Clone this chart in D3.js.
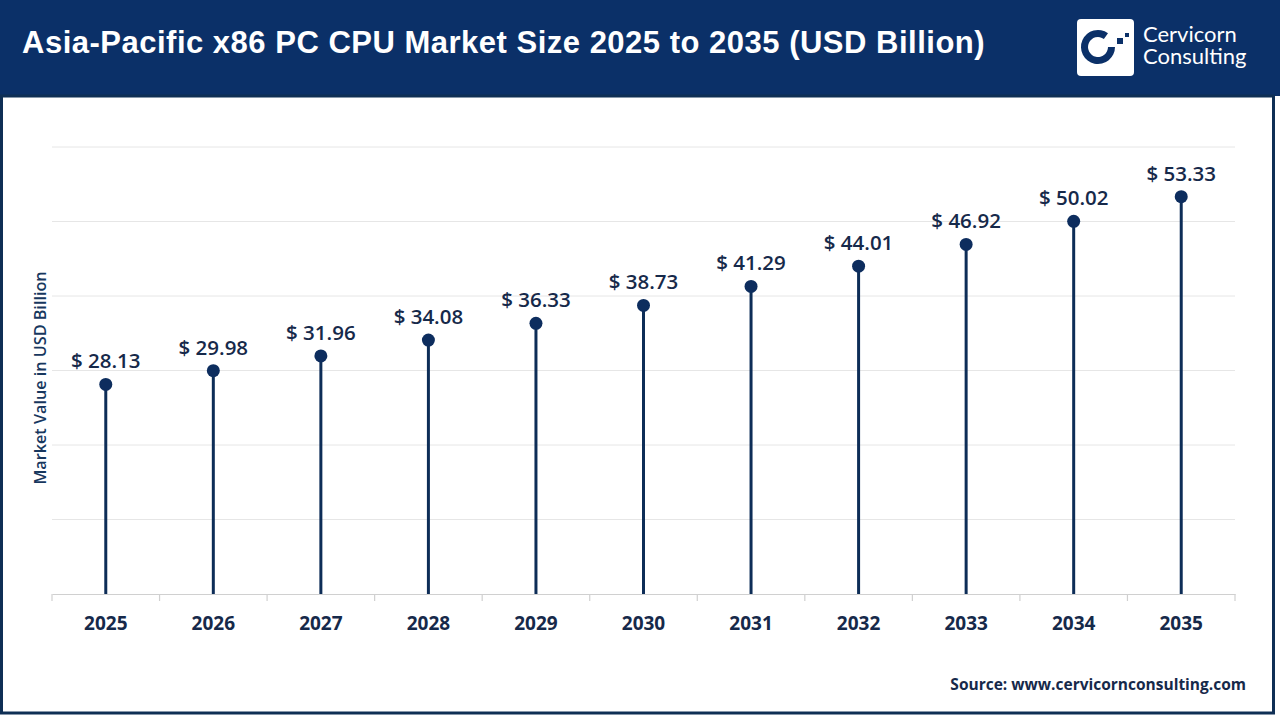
<!DOCTYPE html>
<html>
<head>
<meta charset="utf-8">
<script src="https://cdn.jsdelivr.net/npm/d3@7/dist/d3.min.js"></script>
<style>
html,body{margin:0;padding:0;background:#fff;}
svg{display:block;}
</style>
</head>
<body>
<svg id="chart" width="1280" height="720"></svg>
<script>
const years = ["2025","2026","2027","2028","2029","2030","2031","2032","2033","2034","2035"];
const values = [28.13,29.98,31.96,34.08,36.33,38.73,41.29,44.01,46.92,50.02,53.33];
const yTicks = [0,10,20,30,40,50,60];
const title = "Asia-Pacific x86 PC CPU Market Size 2025 to 2035 (USD Billion)";
const yLabel = "Market Value in USD Billion";
const source = "Source: www.cervicornconsulting.com";
const brand = ["Cervicorn","Consulting"];

(function(){
const svg = d3.select("#chart");
const navy = "#0b3068";

// header
svg.append("rect").attr("x",0).attr("y",0).attr("width",1280).attr("height",96).attr("fill",navy);
// frame
svg.append("rect").attr("x",1.5).attr("y",96).attr("width",1272).attr("height",617)
  .attr("fill","#fff").attr("stroke","#0f2f55").attr("stroke-width",3);

svg.append("text").attr("x",22).attr("y",53).attr("fill","#fff")
  .attr("font-family","Liberation Sans, Arial, sans-serif").attr("font-weight","bold")
  .attr("font-size",31).attr("letter-spacing",0.5).text(title);

// logo
svg.append("rect").attr("x",1077).attr("y",19).attr("width",57).attr("height",57).attr("rx",4).attr("fill","#fff");
const lg = svg.append("g").attr("transform","translate(1098,47)");
const arc = d3.arc().innerRadius(10).outerRadius(17);
lg.append("path").attr("d",arc({startAngle:0.5*Math.PI, endAngle:2.2*Math.PI})).attr("fill",navy);
lg.append("rect").attr("x",19).attr("y",-9).attr("width",6).attr("height",6).attr("fill",navy);
lg.append("rect").attr("x",27).attr("y",-14).attr("width",4).attr("height",4).attr("fill",navy);
const bt = svg.append("text").attr("fill","#fff").attr("font-family","Lato, Open Sans, sans-serif")
  .attr("font-size",22);
bt.selectAll("tspan").data(brand).join("tspan").attr("x",1143).attr("y",(d,i)=>42+i*22).text(d=>d);

// chart
const pl = 52, pr = 1235, pt = 147, pb = 594;
const x = d3.scaleBand().domain(years).range([pl,pr]).padding(0);
const y = d3.scaleLinear().domain([0,60]).range([pb,pt]);

// grid
svg.append("g").selectAll("line").data(yTicks.slice(1)).join("line")
  .attr("x1",pl).attr("x2",pr).attr("y1",d=>y(d)).attr("y2",d=>y(d))
  .attr("stroke","#e6e6e6").attr("stroke-width",1);

// x axis
const xAxis = svg.append("g").attr("transform",`translate(0,${pb})`)
  .call(d3.axisBottom(x).tickSize(0).tickPadding(23));
xAxis.select(".domain").attr("stroke","#d0d0d0").attr("stroke-width",1.2);
xAxis.selectAll("text").attr("font-family","Open Sans, Noto Sans, sans-serif").attr("font-weight","bold")
  .attr("font-size",19).attr("fill","#16294a");
// band boundary ticks
const bounds = years.map(d=>x(d)).concat([pr]);
svg.append("g").selectAll("line").data(bounds).join("line")
  .attr("x1",d=>d).attr("x2",d=>d)
  .attr("y1",pb).attr("y2",pb+7).attr("stroke","#d0d0d0").attr("stroke-width",1.2);

const data = years.map((yr,i)=>({yr, v: values[i]}));
const g = svg.append("g");
g.selectAll("line.stem").data(data).join("line").attr("class","stem")
  .attr("x1",d=>x(d.yr)+x.bandwidth()/2).attr("x2",d=>x(d.yr)+x.bandwidth()/2)
  .attr("y1",y(0)).attr("y2",d=>y(d.v)).attr("stroke","#0d2d57").attr("stroke-width",3);
g.selectAll("circle").data(data).join("circle")
  .attr("cx",d=>x(d.yr)+x.bandwidth()/2).attr("cy",d=>y(d.v)).attr("r",6.5).attr("fill","#0d2d5e");
g.selectAll("text.lbl").data(data).join("text").attr("class","lbl")
  .attr("x",d=>x(d.yr)+x.bandwidth()/2).attr("y",d=>y(d.v)-16).attr("text-anchor","middle")
  .attr("font-family","Open Sans, Noto Sans, sans-serif").attr("font-weight","600").attr("font-size",20.5)
  .attr("fill","#16294a").text(d=>"$ "+d.v.toFixed(2));

// y label
svg.append("text").attr("transform","translate(46,378) rotate(-90)").attr("text-anchor","middle")
  .attr("font-family","Open Sans, Noto Sans, sans-serif").attr("font-weight","600").attr("font-size",16.2)
  .attr("fill","#17375e").text(yLabel);

// source
svg.append("text").attr("x",1246).attr("y",690).attr("text-anchor","end")
  .attr("font-family","Open Sans, Noto Sans, sans-serif").attr("font-weight","bold").attr("font-size",15.5)
  .attr("fill","#16294a").text(source);
})();
</script>
</body>
</html>
